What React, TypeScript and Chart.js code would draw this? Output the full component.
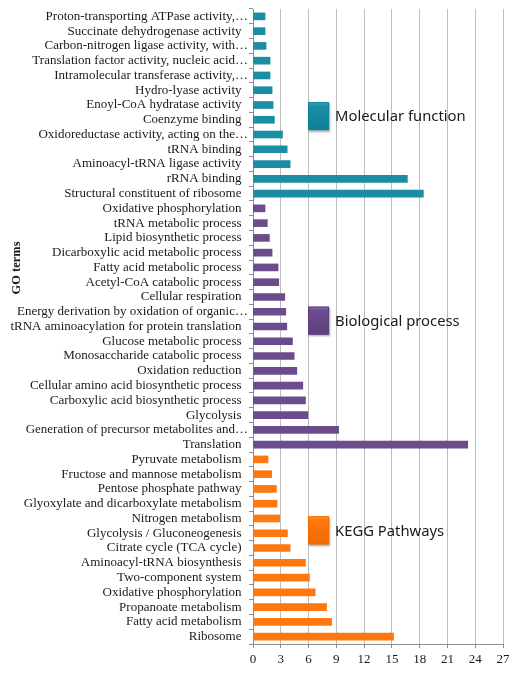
import React, { useEffect, useRef } from "react";
import { Chart, registerables } from "chart.js";

Chart.register(...registerables);

const mfLabels = [
  "Proton-transporting ATPase activity,…",
  "Succinate dehydrogenase activity",
  "Carbon-nitrogen ligase activity, with…",
  "Translation factor activity, nucleic acid…",
  "Intramolecular transferase activity,…",
  "Hydro-lyase activity",
  "Enoyl-CoA hydratase activity",
  "Coenzyme binding",
  "Oxidoreductase activity, acting on the…",
  "tRNA binding",
  "Aminoacyl-tRNA ligase activity",
  "rRNA binding",
  "Structural constituent of ribosome",
];
const mfValues = [1.3, 1.3, 1.41, 1.84, 1.84, 2.06, 2.17, 2.31, 3.18, 3.69, 4.01, 16.67, 18.4];

const bpLabels = [
  "Oxidative phosphorylation",
  "tRNA metabolic process",
  "Lipid biosynthetic process",
  "Dicarboxylic acid metabolic process",
  "Fatty acid metabolic process",
  "Acetyl-CoA catabolic process",
  "Cellular respiration",
  "Energy derivation by oxidation of organic…",
  "tRNA aminoacylation for protein translation",
  "Glucose metabolic process",
  "Monosaccharide catabolic process",
  "Oxidation reduction",
  "Cellular amino acid biosynthetic process",
  "Carboxylic acid biosynthetic process",
  "Glycolysis",
  "Generation of precursor metabolites and…",
  "Translation",
];
const bpValues = [1.3, 1.55, 1.77, 2.06, 2.71, 2.78, 3.43, 3.54, 3.65, 4.26, 4.45, 4.73, 5.38, 5.67, 5.93, 9.25, 23.19];

const keggLabels = [
  "Pyruvate metabolism",
  "Fructose and mannose metabolism",
  "Pentose phosphate pathway",
  "Glyoxylate and dicarboxylate metabolism",
  "Nitrogen metabolism",
  "Glycolysis / Gluconeogenesis",
  "Citrate cycle (TCA cycle)",
  "Aminoacyl-tRNA biosynthesis",
  "Two-component system",
  "Oxidative phosphorylation",
  "Propanoate metabolism",
  "Fatty acid metabolism",
  "Ribosome",
];
const keggValues = [1.63, 2.02, 2.53, 2.6, 2.89, 3.72, 4.01, 5.67, 6.1, 6.72, 7.95, 8.49, 15.18];

const groupNames = ["Molecular function", "Biological process", "KEGG Pathways"];
const barColors = ["#1b8ea4", "#6c4c8d", "#ff770f"];
const boxTop = ["#2cb3c6", "#8a6aaa", "#ff9a30"];
const boxBottom = ["#0f8196", "#5d3f7d", "#f06a00"];
const axisTitle = "GO terms";
const xTicksMax = 27;
const xTickStep = 3;

const serif = "'Liberation Serif', 'Times New Roman', serif";

export default function App() {
  const ref = useRef<HTMLCanvasElement | null>(null);

  useEffect(() => {
    const canvas = ref.current;
    if (!canvas) return;
    const labels = [...mfLabels, ...bpLabels, ...keggLabels];
    const values = [...mfValues, ...bpValues, ...keggValues];
    const colors = [
      ...mfValues.map(() => barColors[0]),
      ...bpValues.map(() => barColors[1]),
      ...keggValues.map(() => barColors[2]),
    ];
    const legendIdx = [6.75, 20.6, 34.8];

    const overlay = {
      id: "overlay",
      afterDatasetsDraw(chart: any) {
        const ctx = chart.ctx;
        const xs = chart.scales.x;
        const ys = chart.scales.y;
        ctx.save();
        groupNames.forEach((name, i) => {
          const x0 = xs.getPixelForValue(6) - 0.5;
          const w = 21;
          const h = 28;
          const yc = ys.getPixelForValue(legendIdx[i]);
          const y0 = yc - h / 2;
          ctx.save();
          ctx.shadowColor = "rgba(0,0,0,0.35)";
          ctx.shadowBlur = 2;
          ctx.shadowOffsetX = 1;
          ctx.shadowOffsetY = 1.5;
          const g = ctx.createLinearGradient(0, y0, 0, y0 + h);
          g.addColorStop(0, boxTop[i]);
          g.addColorStop(0.15, barColors[i]);
          g.addColorStop(1, boxBottom[i]);
          ctx.fillStyle = g;
          ctx.fillRect(x0, y0, w, h);
          ctx.restore();
          ctx.strokeStyle = boxBottom[i];
          ctx.lineWidth = 1;
          ctx.strokeRect(x0 + 0.5, y0 + 0.5, w - 1, h - 1);
          ctx.fillStyle = "#1a1a1a";
          ctx.font = "14.8px 'Noto Sans', 'Open Sans', sans-serif";
          ctx.textAlign = "left";
          ctx.textBaseline = "middle";
          ctx.fillText(name, x0 + w + 6, yc + 1);
        });
        ctx.translate(17, 268);
        ctx.rotate(-Math.PI / 2);
        ctx.font = "bold 12.5px " + serif;
        ctx.fillStyle = "#1a1a1a";
        ctx.textAlign = "center";
        ctx.textBaseline = "middle";
        ctx.fillText(axisTitle, 0, 0);
        ctx.restore();
      },
    };

    const chart = new Chart(canvas, {
      type: "bar",
      data: {
        labels,
        datasets: [
          {
            data: values,
            backgroundColor: colors,
            borderWidth: 0,
            barThickness: 7,
          },
        ],
      },
      options: {
        indexAxis: "y",
        animation: false,
        responsive: false,
        devicePixelRatio: 1,
        layout: { padding: { top: 9, right: 15, bottom: 0, left: 0 } },
        plugins: { legend: { display: false }, tooltip: { enabled: false } },
        scales: {
          x: {
            min: 0,
            max: xTicksMax,
            ticks: {
              stepSize: xTickStep,
              color: "#1a1a1a",
              font: { family: serif, size: 13 },
              padding: 4,
            },
            grid: {
              color: "#bdbdbd",
              lineWidth: 1,
              drawTicks: true,
              tickLength: 4,
              tickColor: "#8c8c8c",
            },
            border: { color: "#8c8c8c" },
            afterFit(scale: any) {
              scale.height = 30;
            },
          },
          y: {
            ticks: {
              autoSkip: false,
              color: "#1a1a1a",
              font: { family: serif, size: 13 },
              padding: 1,
              callback: function (this: any, v: any) {
                const l = this.getLabelForValue(v) as string;
                return l.endsWith("…") ? l : l + "  ";
              },
            },
            grid: {
              drawOnChartArea: false,
              drawTicks: true,
              tickLength: 4,
              color: "#8c8c8c",
              offset: true,
            },
            border: { color: "#8c8c8c" },
            afterFit(scale: any) {
              scale.width = 253;
            },
          },
        },
      },
      plugins: [overlay],
    } as any);
    return () => chart.destroy();
  }, []);

  return (
    <div style={{ position: "absolute", left: 0, top: 0, width: 518, height: 674, background: "#fff" }}>
      <canvas ref={ref} width={518} height={674} style={{ display: "block", width: 518, height: 674 }} />
    </div>
  );
}
